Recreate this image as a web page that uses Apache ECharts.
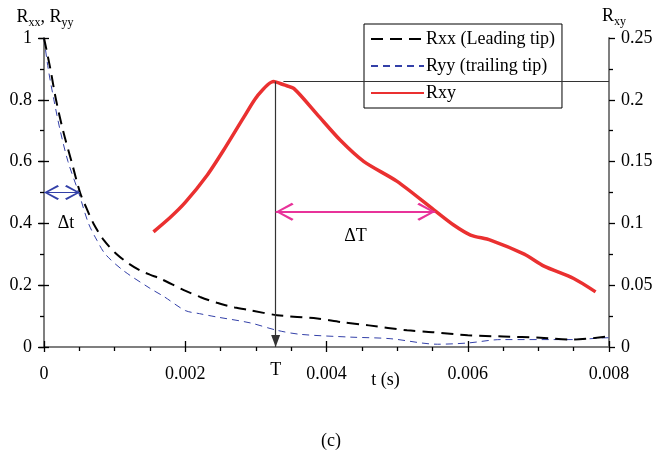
<!DOCTYPE html>
<html>
<head>
<meta charset="utf-8">
<script src="https://cdn.jsdelivr.net/npm/echarts@6/dist/echarts.min.js"></script>
<style>
  html, body { margin: 0; padding: 0; background: #fff; }
  #chart { width: 671px; height: 453px; }
</style>
</head>
<body>
<div id="chart"></div>
<script>
// Rxx (leading tip)
const tRxx = [0, 0.00009, 0.00017, 0.00027, 0.00039, 0.00051, 0.0006, 0.0007, 0.00085, 0.00103, 0.0012, 0.00136, 0.0015, 0.00164, 0.00198, 0.00221, 0.00245, 0.0027, 0.00292, 0.0033, 0.00387, 0.0042, 0.0046, 0.00514, 0.0055, 0.006, 0.0065, 0.00703, 0.0075, 0.008];
const rxx  = [1, 0.9, 0.8, 0.7, 0.6, 0.5, 0.45, 0.4, 0.345, 0.3, 0.27, 0.248, 0.234, 0.222, 0.184, 0.162, 0.143, 0.128, 0.119, 0.103, 0.092, 0.081, 0.07, 0.054, 0.048, 0.038, 0.034, 0.03, 0.024, 0.035];
// Ryy (trailing tip)
const tRyy = [0, 0.00006, 0.00014, 0.00023, 0.00034, 0.00049, 0.00063, 0.00075, 0.00087, 0.00112, 0.0015, 0.0017, 0.002, 0.0022, 0.00245, 0.00292, 0.0033, 0.00363, 0.00434, 0.0049, 0.00557, 0.006, 0.00647, 0.0075, 0.008, 0.0083];
const ryy  = [1, 0.9, 0.8, 0.7, 0.6, 0.5, 0.4, 0.345, 0.3, 0.248, 0.19, 0.163, 0.118, 0.108, 0.097, 0.078, 0.054, 0.041, 0.032, 0.027, 0.009, 0.013, 0.024, 0.024, 0.03, 0.027];
// Rxy (right axis)
const tRxy = [0.00155, 0.00179, 0.002, 0.00231, 0.00254, 0.00283, 0.00302, 0.00325, 0.0034, 0.00354, 0.00387, 0.0042, 0.00453, 0.005, 0.00552, 0.0058, 0.00604, 0.00632, 0.0068, 0.00708, 0.0075, 0.00781];
const rxy  = [0.0932, 0.105, 0.117, 0.139, 0.159, 0.186, 0.203, 0.2148, 0.212, 0.209, 0.188, 0.167, 0.15, 0.134, 0.111, 0.0987, 0.0906, 0.0865, 0.0751, 0.0654, 0.0554, 0.0446];

// annotations (data coordinates)
const dtSpan = [0, 0.00051];      // Δt at R = 0.5
const peakT = 0.00328;            // T
const peakLeft = 0.859;           // top of T line on left scale
const peakRight = 0.215;          // horizontal line level on right scale
const bigDTSpan = [0.00328, 0.00554];
const bigDTLevel = 0.1094;

const FONT = 'Liberation Serif';
// open arrow head, tip at the centre of its box so it ends on the point
const chev = 'path://M5,-10L5.01,-10L5,-9.99Z M5,0 L10,9 L9,10 L5,2.2 L1,10 L0,9 Z';
const tri = 'path://M5,-12L5.01,-12L5,-11.99Z M5,0 L10,12 L0,12 Z';

function pairs(xs, ys) {
  return xs.map((x, i) => [x, ys[i]]);
}

const chart = echarts.init(document.getElementById('chart'));

const tickStyle = { color: '#000', width: 1.3 };
const axisLineStyle = { color: '#7f7f7f', width: 2 };
const labelStyle = { fontFamily: FONT, fontSize: 18, color: '#000' };
const rich = {
  r: { fontFamily: FONT, fontSize: 18, color: '#000', lineHeight: 24 },
  s: { fontFamily: FONT, fontSize: 12, color: '#000', lineHeight: 12, verticalAlign: 'bottom' }
};

chart.setOption({
  animation: false,
  title: {
    text: '(c)',
    left: 316,
    top: 427,
    textStyle: { fontFamily: FONT, fontSize: 18, fontWeight: 'normal', color: '#000' }
  },
  legend: {
    left: 364,
    top: 24,
    orient: 'vertical',
    borderColor: '#000',
    borderWidth: 1,
    padding: [6, 7, 6, 6],
    itemGap: 9,
    itemWidth: 53,
    itemHeight: 14,
    itemStyle: { opacity: 0 },
    textStyle: { fontFamily: FONT, fontSize: 18, color: '#000', padding: [0, 0, 0, -3] },
    data: ['Rxx (Leading tip)', 'Ryy (trailing tip)', 'Rxy']
  },
  grid: { left: 44, right: 62, top: 38, bottom: 106 },
  xAxis: [{
    type: 'value',
    min: 0, max: 0.008, interval: 0.002,
    name: 't (s)',
    nameLocation: 'middle',
    nameGap: 24,
    nameMoveOverlap: false,
    nameTextStyle: { fontFamily: FONT, fontSize: 18, color: '#000', padding: [0, 0, 0, 118] },
    axisLine: { onZero: false, lineStyle: axisLineStyle },
    axisTick: { length: 5, lineStyle: tickStyle },
    minorTick: { show: true, splitNumber: 4, length: 4, lineStyle: tickStyle },
    splitLine: { show: false },
    axisLabel: Object.assign({ margin: 18, formatter: v => v === 0 ? '0' : v.toFixed(3) }, labelStyle)
  }, {
    type: 'value', position: 'bottom',
    min: 0, max: 0.008, interval: 0.002,
    axisLine: { show: false },
    axisTick: { inside: true, length: 6, lineStyle: tickStyle },
    axisLabel: { show: false },
    splitLine: { show: false }
  }],
  yAxis: [{
    type: 'value', position: 'left',
    min: 0, max: 1, interval: 0.2,
    name: '{r|R}{s|xx}{r|, R}{s|yy}',
    nameLocation: 'end',
    nameGap: 3,
    nameTextStyle: { rich: rich, padding: [0, 0, 0, 2] },
    axisLine: { onZero: false, lineStyle: axisLineStyle },
    axisTick: { length: 6, lineStyle: tickStyle },
    minorTick: { show: true, splitNumber: 2, length: 4, lineStyle: tickStyle },
    splitLine: { show: false },
    axisLabel: Object.assign({ margin: 12, formatter: v => String(+v.toFixed(1)) }, labelStyle)
  }, {
    type: 'value', position: 'right',
    min: 0, max: 0.25, interval: 0.05,
    name: '{r|R}{s|xy}',
    nameLocation: 'end',
    nameGap: 10,
    nameTextStyle: { rich: rich, padding: [0, 0, 0, 10] },
    axisLine: { onZero: false, lineStyle: axisLineStyle },
    axisTick: { length: 6, lineStyle: tickStyle },
    minorTick: { show: true, splitNumber: 2, length: 4, lineStyle: tickStyle },
    splitLine: { show: false },
    axisLabel: Object.assign({ margin: 12, formatter: v => String(+v.toFixed(2)) }, labelStyle)
  }, {
    type: 'value', position: 'left',
    min: 0, max: 1, interval: 0.2,
    axisLine: { show: false },
    axisTick: { inside: true, length: 5, lineStyle: tickStyle },
    axisLabel: { show: false },
    splitLine: { show: false }
  }, {
    type: 'value', position: 'right',
    min: 0, max: 0.25, interval: 0.05,
    axisLine: { show: false },
    axisTick: { inside: true, length: 5, lineStyle: tickStyle },
    axisLabel: { show: false },
    splitLine: { show: false }
  }],
  series: [{
    name: 'Rxx (Leading tip)',
    type: 'line',
    xAxisIndex: 0, yAxisIndex: 0,
    symbol: 'none',
    smooth: 0.3,
    z: 3,
    lineStyle: { color: '#000', width: 2, type: [12, 7] },
    itemStyle: { color: '#000' },
    data: pairs(tRxx, rxx),
    markLine: {
      silent: true,
      animation: false,
      data: [
        [
          { coord: [dtSpan[0], 0.5], symbol: chev, symbolSize: [15, 30],
            lineStyle: { color: '#3340a8', width: 1.2, type: 'solid' },
            label: { show: true, position: 'insideMiddleBottom', distance: 22, formatter: 'Δt',
                     fontFamily: FONT, fontSize: 18, color: '#000', padding: [0, 0, 0, 8] } },
          { coord: [dtSpan[1], 0.5], symbol: chev, symbolSize: [15, 30] }
        ],
        [
          { coord: [peakT, peakLeft], symbol: 'none',
            lineStyle: { color: '#333', width: 1.2, type: 'solid' },
            label: { show: true, position: 'end', distance: 14, formatter: 'T',
                     fontFamily: FONT, fontSize: 18, color: '#000' } },
          { coord: [peakT, 0], symbol: tri, symbolSize: [9, 24] }
        ]
      ]
    }
  }, {
    name: 'Ryy (trailing tip)',
    type: 'line',
    xAxisIndex: 0, yAxisIndex: 0,
    symbol: 'none',
    smooth: 0.3,
    clip: false,
    z: 2,
    lineStyle: { color: '#3340a8', width: 1, type: [7, 5] },
    itemStyle: { color: '#3340a8' },
    data: pairs(tRyy, ryy)
  }, {
    name: 'Rxy',
    type: 'line',
    xAxisIndex: 0, yAxisIndex: 1,
    symbol: 'none',
    smooth: 0.25,
    z: 4,
    lineStyle: { color: '#ea3030', width: 3.5 },
    itemStyle: { color: '#ea3030' },
    data: pairs(tRxy, rxy),
    markLine: {
      silent: true,
      animation: false,
      data: [
        [
          { coord: [0.00339, peakRight], symbol: 'none',
            lineStyle: { color: '#333', width: 1.2, type: 'solid' }, label: { show: false } },
          { coord: [0.008, peakRight], symbol: 'none' }
        ],
        [
          { coord: [bigDTSpan[0], bigDTLevel], symbol: chev, symbolSize: [18, 36],
            lineStyle: { color: '#e8339a', width: 2, type: 'solid' },
            label: { show: true, position: 'insideMiddleBottom', distance: 15, formatter: 'ΔT',
                     fontFamily: FONT, fontSize: 18, color: '#000' } },
          { coord: [bigDTSpan[1], bigDTLevel], symbol: chev, symbolSize: [18, 36] }
        ]
      ]
    }
  }]
});
</script>
</body>
</html>
